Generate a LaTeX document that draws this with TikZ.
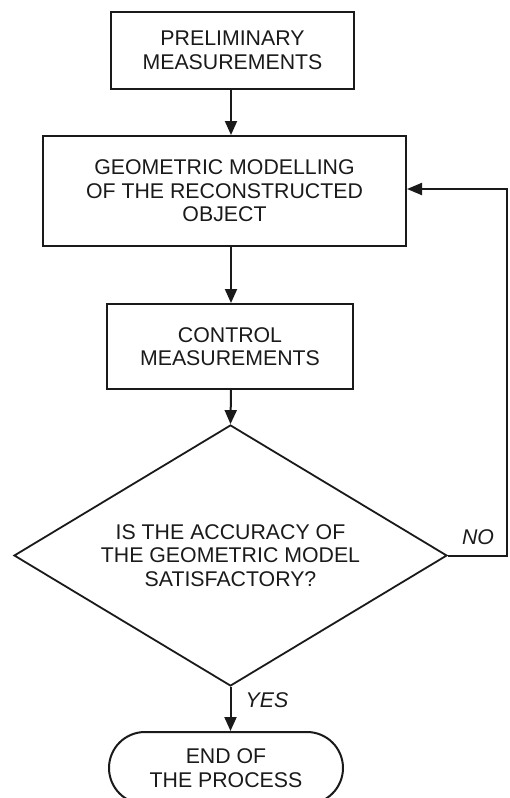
\documentclass[tikz,border=0pt]{standalone}
\usepackage{fontspec}
\setmainfont{Liberation Sans}
\usetikzlibrary{arrows.meta,shapes.geometric,calc}
\definecolor{ink}{HTML}{1A1A1A}
\tikzset{
  box/.style={draw=ink, line width=2pt, rectangle, inner sep=0pt, align=center, text=ink,
    font={\fontsize{21.3}{23.5}\selectfont}},
  decision/.style={draw=ink, line width=1.8pt, diamond, aspect=1.66, inner sep=0pt, align=center, text=ink,
    font={\fontsize{21.3}{23.5}\selectfont}},
  terminal/.style={draw=ink, line width=2pt, rectangle, rounded corners=36pt, inner sep=0pt, align=center, text=ink,
    font={\fontsize{21.3}{23.5}\selectfont}},
  arr/.style={draw=ink, line width=2pt, -{Triangle[length=14pt,width=12pt]}},
  lbl/.style={text=ink, font={\fontsize{21.3}{23.5}\selectfont\itshape}, inner sep=0pt}
}
\begin{document}
\begin{tikzpicture}[x=1pt,y=-1pt]
\useasboundingbox (0,0) rectangle (509,798);
\coordinate (ax) at (231,0);
\node[box, minimum width=243pt, minimum height=77pt] (b1) at (232.5,50.5) {PRELIMINARY\\MEASUREMENTS};
\node[box, minimum width=363pt, minimum height=110pt] (b2) at (224.5,191) {GEOMETRIC MODELLING\\OF THE RECONSTRUCTED\\OBJECT};
\node[box, minimum width=246pt, minimum height=85pt] (b3) at (230,346.5) {CONTROL\\MEASUREMENTS};
\node[decision, minimum width=433pt, minimum height=261pt] (d) at (230.5,555.5) {IS THE ACCURACY OF\\THE GEOMETRIC MODEL\\SATISFACTORY?};
\node[terminal, minimum width=234pt, minimum height=72pt] (t) at (226,768) {END OF\\THE PROCESS};
\coordinate (fr) at (507,0);
\draw[arr] (b1.south -| ax) -- (b2.north -| ax);
\draw[arr] (b2.south -| ax) -- (b3.north -| ax);
\draw[arr] (b3.south -| ax) -- (d.north);
\draw[arr] (d.south) -- (t.north -| d.south);
\draw[draw=ink, line width=2pt, -{Triangle[length=15pt,width=12pt]}]
  (d.east) -- (d.east -| fr) -- ($(b2.east -| fr)+(0,-2)$) -- ($(b2.east)+(0,-2)$);
\node[lbl] (no) at (478,537) {NO};
\node[lbl] (yes) at (267,700) {YES};
\end{tikzpicture}
\end{document}
